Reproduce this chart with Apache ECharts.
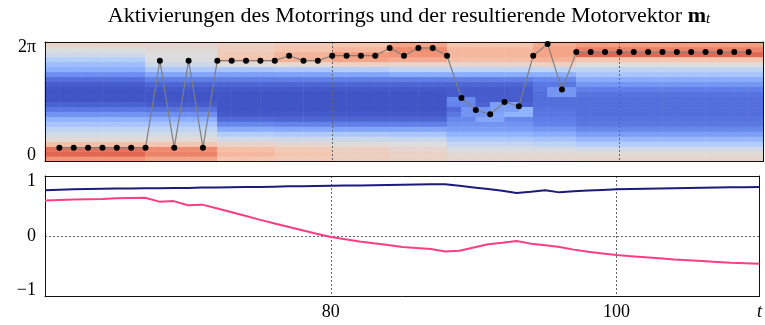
<!DOCTYPE html>
<html>
<head>
<meta charset="utf-8">
<script src="https://cdn.jsdelivr.net/npm/echarts@6/dist/echarts.min.js"></script>
<style>
  html, body { margin: 0; padding: 0; background: #fff; }
  #chart { width: 765px; height: 325px; }
</style>
</head>
<body>
<div id="chart"></div>
<script>
var TWO_PI = 2 * Math.PI;

// Zeitachse
var firstStep = 60;
var lastStep = 110;

// Motorring-Aktivierung: Profile je Spalte (Zeile 0 = unten, 24 Zeilen)
var profileA = [0.76, 0.86, 0.84, 0.64, 0.52, 0.46, 0.40, 0.33, 0.26, 0.17, 0.10, 0.05, 0.02, 0.02, 0.02, 0.04, 0.08, 0.16, 0.25, 0.30, 0.37, 0.45, 0.50, 0.55];
var profileB = [0.72, 0.80, 0.78, 0.62, 0.52, 0.46, 0.40, 0.33, 0.25, 0.16, 0.09, 0.04, 0.02, 0.02, 0.03, 0.06, 0.12, 0.22, 0.34, 0.44, 0.49, 0.50, 0.52, 0.54];
var profileC = [0.62, 0.66, 0.64, 0.56, 0.46, 0.36, 0.24, 0.14, 0.07, 0.03, 0.02, 0.02, 0.02, 0.02, 0.03, 0.06, 0.12, 0.20, 0.33, 0.50, 0.62, 0.60, 0.58, 0.57];
var profileD = [0.60, 0.62, 0.60, 0.54, 0.45, 0.35, 0.23, 0.13, 0.06, 0.03, 0.02, 0.02, 0.02, 0.02, 0.03, 0.06, 0.12, 0.21, 0.34, 0.52, 0.68, 0.67, 0.62, 0.60];
var profileE = [0.58, 0.58, 0.57, 0.52, 0.44, 0.34, 0.22, 0.12, 0.06, 0.03, 0.02, 0.02, 0.02, 0.02, 0.03, 0.06, 0.12, 0.22, 0.36, 0.55, 0.72, 0.75, 0.66, 0.62];
var profileF = [0.56, 0.56, 0.54, 0.50, 0.43, 0.33, 0.22, 0.12, 0.06, 0.03, 0.02, 0.02, 0.02, 0.02, 0.03, 0.06, 0.12, 0.24, 0.40, 0.54, 0.70, 0.76, 0.78, 0.72];
var profileG = [0.54, 0.52, 0.48, 0.42, 0.34, 0.26, 0.20, 0.17, 0.14, 0.10, 0.07, 0.05, 0.04, 0.04, 0.04, 0.06, 0.12, 0.24, 0.40, 0.54, 0.64, 0.66, 0.66, 0.62];
var profileH = [0.54, 0.52, 0.48, 0.40, 0.32, 0.24, 0.18, 0.13, 0.11, 0.10, 0.09, 0.08, 0.08, 0.08, 0.09, 0.10, 0.14, 0.25, 0.40, 0.56, 0.68, 0.72, 0.72, 0.70];
var profileI = [0.55, 0.52, 0.46, 0.36, 0.28, 0.20, 0.14, 0.10, 0.09, 0.08, 0.08, 0.08, 0.08, 0.09, 0.12, 0.18, 0.24, 0.33, 0.40, 0.50, 0.62, 0.86, 0.80, 0.74];
var profiles = { A: profileA, B: profileB, C: profileC, D: profileD, E: profileE, F: profileF, G: profileG, H: profileH, I: profileI };
// welches Profil in welcher Spalte (Spalte i = [60+i, 61+i])
var columnProfile = 'AAAAAAABBBBBCCCCDDDDEEEEFFFFGGGGGGHHHIIIIIIIIIIIII';
// einzelne hellere Zellen [Spalte, Zeile, Wert]
var brightCells = [
    [28, 11, 0.13], [29, 11, 0.13], [28, 12, 0.14], [29, 12, 0.14],
    [29, 9, 0.17], [29, 10, 0.17], [30, 9, 0.17], [30, 10, 0.17],
    [30, 8, 0.22], [31, 8, 0.22], [31, 9, 0.22],
    [31, 10, 0.20], [32, 10, 0.20], [31, 11, 0.20], [32, 11, 0.20],
    [32, 9, 0.26], [33, 9, 0.26], [33, 10, 0.26],
    [35, 13, 0.18], [35, 14, 0.18], [36, 13, 0.18], [36, 14, 0.18]
];

// Gewinner-Neuron (Winkel) je Zeitschritt t = 61..109
var dotStart = 61;
var dotAngle = [0.43, 0.43, 0.43, 0.43, 0.43, 0.43, 0.43, 5.51, 0.43, 5.51, 0.43,
    5.51, 5.51, 5.51, 5.51, 5.51, 5.80, 5.51, 5.51, 5.80, 5.80, 5.80, 5.80,
    6.25, 5.80, 6.25, 6.25, 5.80, 3.33, 2.63, 2.38, 3.10, 2.85, 5.80, 6.49, 3.82,
    6.01, 6.01, 6.01, 6.01, 6.01, 6.01, 6.01, 6.01, 6.01, 6.01, 6.01, 6.01, 6.01];

// Motorvektor m_t, t = 60..110
var mFirst = [0.84, 0.85, 0.855, 0.86, 0.865, 0.87, 0.872, 0.875, 0.875, 0.88, 0.88,
    0.89, 0.89, 0.895, 0.90, 0.90, 0.905, 0.91, 0.91, 0.915, 0.92,
    0.925, 0.925, 0.93, 0.935, 0.94, 0.945, 0.95, 0.95, 0.92, 0.89,
    0.86, 0.83, 0.79, 0.81, 0.84, 0.80, 0.82, 0.835, 0.845, 0.855,
    0.86, 0.865, 0.87, 0.875, 0.88, 0.885, 0.89, 0.895, 0.895, 0.90];
var mSecond = [0.65, 0.66, 0.67, 0.675, 0.68, 0.69, 0.695, 0.70, 0.63, 0.64, 0.565,
    0.575, 0.51, 0.44, 0.37, 0.30, 0.235, 0.17, 0.105, 0.04, -0.02,
    -0.06, -0.10, -0.135, -0.165, -0.20, -0.22, -0.24, -0.285, -0.27, -0.21,
    -0.15, -0.125, -0.09, -0.14, -0.17, -0.20, -0.25, -0.29, -0.32, -0.35,
    -0.37, -0.39, -0.41, -0.43, -0.445, -0.46, -0.475, -0.49, -0.50, -0.51];

// Achsenbeschriftungen
var xTicks = [80, 100];
var xLabelValues = [80, 100, 110];
var angleTicks = [0, TWO_PI];
var mTicks = [-1, 0, 1];

var coolwarm = ['#3b4cc0', '#6282ea', '#8db0fe', '#b8d0f9', '#dddddd', '#f5c4ad', '#f49a7b', '#de604d', '#b40426'];
var FONT = 'Liberation Serif';

var heatData = [];
var columnNames = [];
for (var c = 0; c < columnProfile.length; c++) {
    columnNames.push(String(firstStep + c));
    var prof = profiles[columnProfile.charAt(c)];
    for (var r = 0; r < prof.length; r++) {
        heatData.push([c, r, prof[r]]);
    }
}
brightCells.forEach(function (cell) {
    heatData[cell[0] * profileA.length + cell[1]] = cell;
});
var rowNames = [];
for (var k = 0; k < profileA.length; k++) rowNames.push(String(k));

var dotData = dotAngle.map(function (a, i) { return [dotStart + i, a]; });
var firstData = mFirst.map(function (v, i) { return [firstStep + i, v]; });
var secondData = mSecond.map(function (v, i) { return [firstStep + i, v]; });

var frame = { show: true, onZero: false, lineStyle: { color: '#111', width: 1 } };
var dotted = { show: true, lineStyle: { color: '#666', type: [2, 2], width: 1 } };

var myChart = echarts.init(document.getElementById('chart'));
myChart.setOption({
    animation: false,
    title: {
        text: 'Aktivierungen des Motorrings und der resultierende Motorvektor {b|m}{s|t}',
        left: 404,
        top: 0,
        textAlign: 'center',
        textStyle: {
            fontFamily: FONT, fontSize: 22, fontWeight: 'normal', color: '#000',
            rich: {
                b: { fontFamily: FONT, fontSize: 22, fontWeight: 'bold', color: '#000' },
                s: { fontFamily: FONT, fontSize: 15, fontStyle: 'italic', color: '#000', verticalAlign: 'bottom', lineHeight: 10 }
            }
        }
    },
    grid: [
        { left: 45, right: 2, top: 42, height: 119.5 },
        { left: 45, right: 2, top: 176, height: 120 }
    ],
    visualMap: {
        show: false,
        seriesIndex: 0,
        min: 0,
        max: 1,
        inRange: { color: coolwarm }
    },
    xAxis: [
        {
            gridIndex: 0, type: 'value', min: firstStep, max: lastStep, position: 'bottom', z: 5,
            axisLine: frame,
            axisTick: { show: false, customValues: xTicks },
            axisLabel: { show: false },
            splitLine: dotted
        },
        {
            gridIndex: 0, type: 'category', data: columnNames, position: 'top', z: 5,
            axisLine: frame, axisTick: { show: false }, axisLabel: { show: false }, splitLine: { show: false }
        },
        {
            gridIndex: 1, type: 'value', min: firstStep, max: lastStep, position: 'bottom', z: 5,
            axisLine: frame,
            axisTick: { show: false, customValues: xTicks },
            axisLabel: {
                customValues: xLabelValues,
                margin: 7,
                fontFamily: FONT, fontSize: 18, color: '#000',
                formatter: function (v) { return v === lastStep ? '{t|t}' : String(v); },
                rich: { t: { fontFamily: FONT, fontSize: 18, fontStyle: 'italic', color: '#000', align: 'right' } }
            },
            splitLine: dotted
        },
        {
            gridIndex: 1, type: 'value', min: firstStep, max: lastStep, position: 'top', z: 5,
            axisLine: frame, axisTick: { show: false }, axisLabel: { show: false }, splitLine: { show: false }
        }
    ],
    yAxis: [
        {
            gridIndex: 0, type: 'value', min: -0.38, max: 6.6, position: 'left', z: 5,
            axisLine: frame,
            axisTick: { show: false, customValues: angleTicks },
            axisLabel: {
                customValues: angleTicks, margin: 9,
                fontFamily: FONT, fontSize: 18, color: '#000',
                formatter: function (v) { return v === 0 ? '0' : '2π'; }
            },
            splitLine: { show: false }
        },
        {
            gridIndex: 0, type: 'category', data: rowNames, position: 'right', z: 5,
            axisLine: frame, axisTick: { show: false }, axisLabel: { show: false }, splitLine: { show: false }
        },
        {
            gridIndex: 1, type: 'value', min: -1.1, max: 1.1, position: 'left', z: 5,
            axisLine: frame,
            axisTick: { show: false, customValues: [0] },
            axisLabel: {
                customValues: mTicks, margin: 9,
                fontFamily: FONT, fontSize: 18, color: '#000',
                formatter: function (v) { return v < 0 ? '\u22121' : String(v); }
            },
            splitLine: dotted
        },
        {
            gridIndex: 1, type: 'value', min: -1.1, max: 1.1, position: 'right', z: 5,
            axisLine: frame, axisTick: { show: false }, axisLabel: { show: false }, splitLine: { show: false }
        }
    ],
    series: [
        {
            type: 'heatmap',
            xAxisIndex: 1,
            yAxisIndex: 1,
            data: heatData,
            itemStyle: { borderWidth: 0 },
            emphasis: { disabled: true },
            z: 1
        },
        {
            type: 'line',
            xAxisIndex: 0,
            yAxisIndex: 0,
            data: dotData,
            symbol: 'circle',
            symbolSize: 6,
            showAllSymbol: true,
            itemStyle: { color: '#000' },
            lineStyle: { color: '#7f7f7f', width: 1.2 },
            z: 10
        },
        {
            type: 'line',
            xAxisIndex: 2,
            yAxisIndex: 2,
            data: firstData,
            symbol: 'none',
            lineStyle: { color: '#1b1b7c', width: 2 },
            z: 10
        },
        {
            type: 'line',
            xAxisIndex: 2,
            yAxisIndex: 2,
            data: secondData,
            symbol: 'none',
            lineStyle: { color: '#ff3d80', width: 2 },
            z: 10
        }
    ]
});
</script>
</body>
</html>
